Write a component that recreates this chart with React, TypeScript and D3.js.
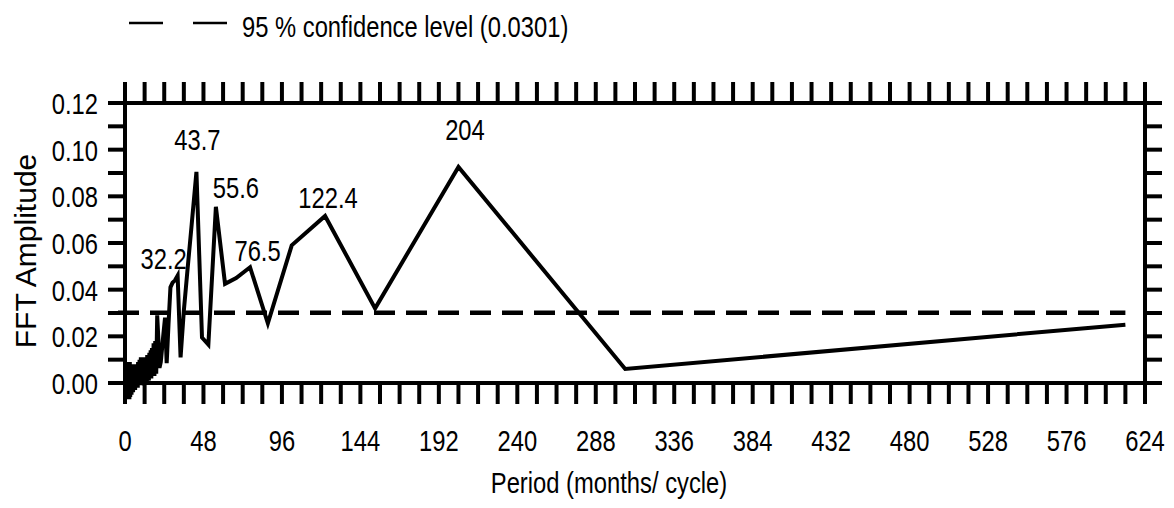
import React from "react";
import * as d3 from "d3";

// FFT amplitude spectrum, x = period (months per cycle), ascending order
const spectrumPeriod = [
  2.0, 2.05, 2.1, 2.15, 2.2, 2.25, 2.3, 2.35, 2.4, 2.45,
  2.5, 2.55, 2.6, 2.65, 2.7, 2.75, 2.8, 2.85, 2.9, 2.95,
  3.0, 3.1, 3.2, 3.3, 3.4, 3.5, 3.6, 3.7, 3.8, 3.9,
  4.0, 4.1, 4.2, 4.3, 4.4, 4.5, 4.65, 4.8, 4.95, 5.1,
  5.25, 5.4, 5.55, 5.7, 5.85, 6.0, 6.2, 6.4, 6.6, 6.8,
  7.0, 7.2, 7.4, 7.6, 7.8, 8.0, 8.25, 8.5, 8.7, 8.9,
  9.1, 9.3, 9.5, 9.7, 9.95, 10.2, 10.7, 11.1, 11.6, 12.0,
  12.5, 13.0, 13.3, 13.6, 13.9, 14.2, 14.6, 14.9, 15.3, 15.7,
  16.1, 16.5, 17.0, 17.5, 18.0, 18.5, 19.1,
  19.7, 20.4, 21.1, 21.9, 22.7, 23.5, 24.5, 25.5, 26.6, 27.8,
  29.1, 30.6, 32.2, 34, 36, 38.3, 40.8, 43.7, 47.1, 51,
  55.6, 61.2, 68, 76.5, 87.4, 102, 122.4, 153, 204, 306, 612,
];

const spectrumAmp = [
  -0.006, 0.008, -0.007, 0.006, -0.005, 0.009, -0.007, 0.007, -0.004, 0.008,
  -0.006, 0.009, -0.005, 0.006, -0.007, 0.008, -0.004, 0.007, -0.006, 0.009,
  -0.005, 0.007, -0.006, 0.008, -0.004, 0.006, -0.005, 0.008, -0.003, 0.007,
  -0.005, 0.006, -0.003, 0.008, -0.004, 0.007, -0.002, 0.006, -0.004, 0.007,
  -0.002, 0.008, -0.003, 0.006, -0.001, 0.008, -0.003, 0.007, -0.001, 0.006,
  -0.002, 0.008, 0.0, 0.007, -0.002, 0.009, -0.001, 0.008, 0.0, 0.01,
  -0.001, 0.009, 0.001, 0.011, -0.001, 0.01, 0.0, 0.011, -0.001, 0.01,
  0.001, 0.011, 0.0, 0.012, 0.001, 0.011, 0.001, 0.013, 0.002, 0.014,
  0.002, 0.015, 0.003, 0.017, 0.003, 0.018, 0.004,
  0.029, 0.019, 0.0065, 0.009, 0.015, 0.021, 0.028, 0.0085, 0.025, 0.041,
  0.043, 0.044, 0.046, 0.011, 0.031, 0.049, 0.068, 0.0905, 0.0195, 0.0165,
  0.0755, 0.0425, 0.045, 0.0496, 0.0256, 0.059, 0.0716, 0.032, 0.0926, 0.006, 0.025,
];

// Periods of the annotated spectral peaks
const peakPeriods = [204, 122.4, 76.5, 55.6, 43.7, 32.2];
// Label placement relative to each peak: [dx, dy] of text centre / baseline
const peakLabelOffsets: [number, number][] = [
  [6.5, -27],
  [3, -8],
  [7.5, -6],
  [20, -9],
  [1, -22],
  [-14, -7],
];

const confidenceLevel = 0.0301;
const xTickLabels = [0, 48, 96, 144, 192, 240, 288, 336, 384, 432, 480, 528, 576, 624];
const yTickLabels = [0, 0.02, 0.04, 0.06, 0.08, 0.1, 0.12];
const xMinorStep = 12;
const yMinorStep = 0.01;

const W = 1174;
const H = 508;
const plot = { left: 125, right: 1145, top: 103, bottom: 383 };
const FONT = '"Liberation Sans", Arial, sans-serif';
const NARROW_SCALE = 0.82;

// Condensed sans text: regular face squeezed horizontally around its anchor
function NText({
  x,
  y,
  anchor = "start",
  size = 28,
  children,
}: {
  x: number;
  y: number;
  anchor?: "start" | "middle" | "end";
  size?: number;
  children: React.ReactNode;
}) {
  return (
    <text
      transform={`translate(${x},${y}) scale(${NARROW_SCALE},1)`}
      textAnchor={anchor}
      fontFamily={FONT}
      fontSize={size}
      fill="#000"
    >
      {children}
    </text>
  );
}

export default function App() {
  const x = d3.scaleLinear().domain([0, 624]).range([plot.left, plot.right]);
  const y = d3.scaleLinear().domain([0, 0.12]).range([plot.bottom, plot.top]);

  const points = spectrumPeriod.map((p, i) => [p, spectrumAmp[i]] as [number, number]);
  const line = d3
    .line<[number, number]>()
    .x((d) => x(d[0]))
    .y((d) => y(d[1]));

  const xMinor = d3.range(0, 624 + 0.001, xMinorStep);
  const yMinor = d3.range(0, 0.12 + 1e-9, yMinorStep);
  const fmtY = d3.format(".2f");
  const lastPeriod = d3.max(spectrumPeriod) as number;

  const tickW = 4;
  const vTick = 21;
  const hTick = 17;

  return (
    <svg
      width={W}
      height={H}
      style={{ position: "absolute", left: 0, top: 0, background: "#fff" }}
    >
      <rect x={0} y={0} width={W} height={H} fill="#fff" />

      {/* legend */}
      <g>
        <line x1={129} x2={227} y1={23} y2={23} stroke="#000" strokeWidth={2.3} strokeDasharray="34 30" />
        <NText x={242} y={37} size={29}>
          {`95 % confidence level (${confidenceLevel})`}
        </NText>
      </g>

      {/* confidence level */}
      <line
        x1={x(0) - 7}
        x2={x(lastPeriod)}
        y1={y(confidenceLevel)}
        y2={y(confidenceLevel)}
        stroke="#000"
        strokeWidth={4.5}
        strokeDasharray="21 11"
      />

      {/* spectrum */}
      <path d={line(points) ?? ""} fill="none" stroke="#000" strokeWidth={4} />

      {/* frame */}
      <rect
        x={plot.left}
        y={plot.top}
        width={plot.right - plot.left}
        height={plot.bottom - plot.top}
        fill="none"
        stroke="#000"
        strokeWidth={tickW}
      />

      {/* x ticks, top and bottom */}
      {xMinor.map((v) => (
        <g key={`xt${v}`}>
          <line x1={x(v)} x2={x(v)} y1={plot.top} y2={plot.top - vTick} stroke="#000" strokeWidth={tickW} />
          <line x1={x(v)} x2={x(v)} y1={plot.bottom} y2={plot.bottom + vTick} stroke="#000" strokeWidth={tickW} />
        </g>
      ))}

      {/* y ticks, left and right */}
      {yMinor.map((v) => (
        <g key={`yt${v}`}>
          <line x1={plot.left} x2={plot.left - hTick} y1={y(v)} y2={y(v)} stroke="#000" strokeWidth={tickW} />
          <line x1={plot.right} x2={plot.right + hTick} y1={y(v)} y2={y(v)} stroke="#000" strokeWidth={tickW} />
        </g>
      ))}

      {/* tick labels */}
      {xTickLabels.map((v) => (
        <NText key={`xl${v}`} x={x(v)} y={451} anchor="middle" size={29}>
          {v}
        </NText>
      ))}
      {yTickLabels.map((v) => (
        <NText key={`yl${v}`} x={98} y={y(v) + 11} anchor="end" size={29}>
          {fmtY(v)}
        </NText>
      ))}

      {/* peak annotations */}
      {peakPeriods.map((p, i) => {
        const idx = spectrumPeriod.indexOf(p);
        const [dx, dy] = peakLabelOffsets[i];
        return (
          <NText key={`pk${p}`} x={x(p) + dx} y={y(spectrumAmp[idx]) + dy} anchor="middle" size={29}>
            {String(p)}
          </NText>
        );
      })}

      {/* axis titles */}
      <NText x={609} y={493} anchor="middle" size={29}>
        Period (months/ cycle)
      </NText>
      <text
        transform={`translate(36, 251) rotate(-90)`}
        textAnchor="middle"
        fontFamily={FONT}
        fontSize={30}
        fill="#000"
      >
        FFT Amplitude
      </text>
    </svg>
  );
}
